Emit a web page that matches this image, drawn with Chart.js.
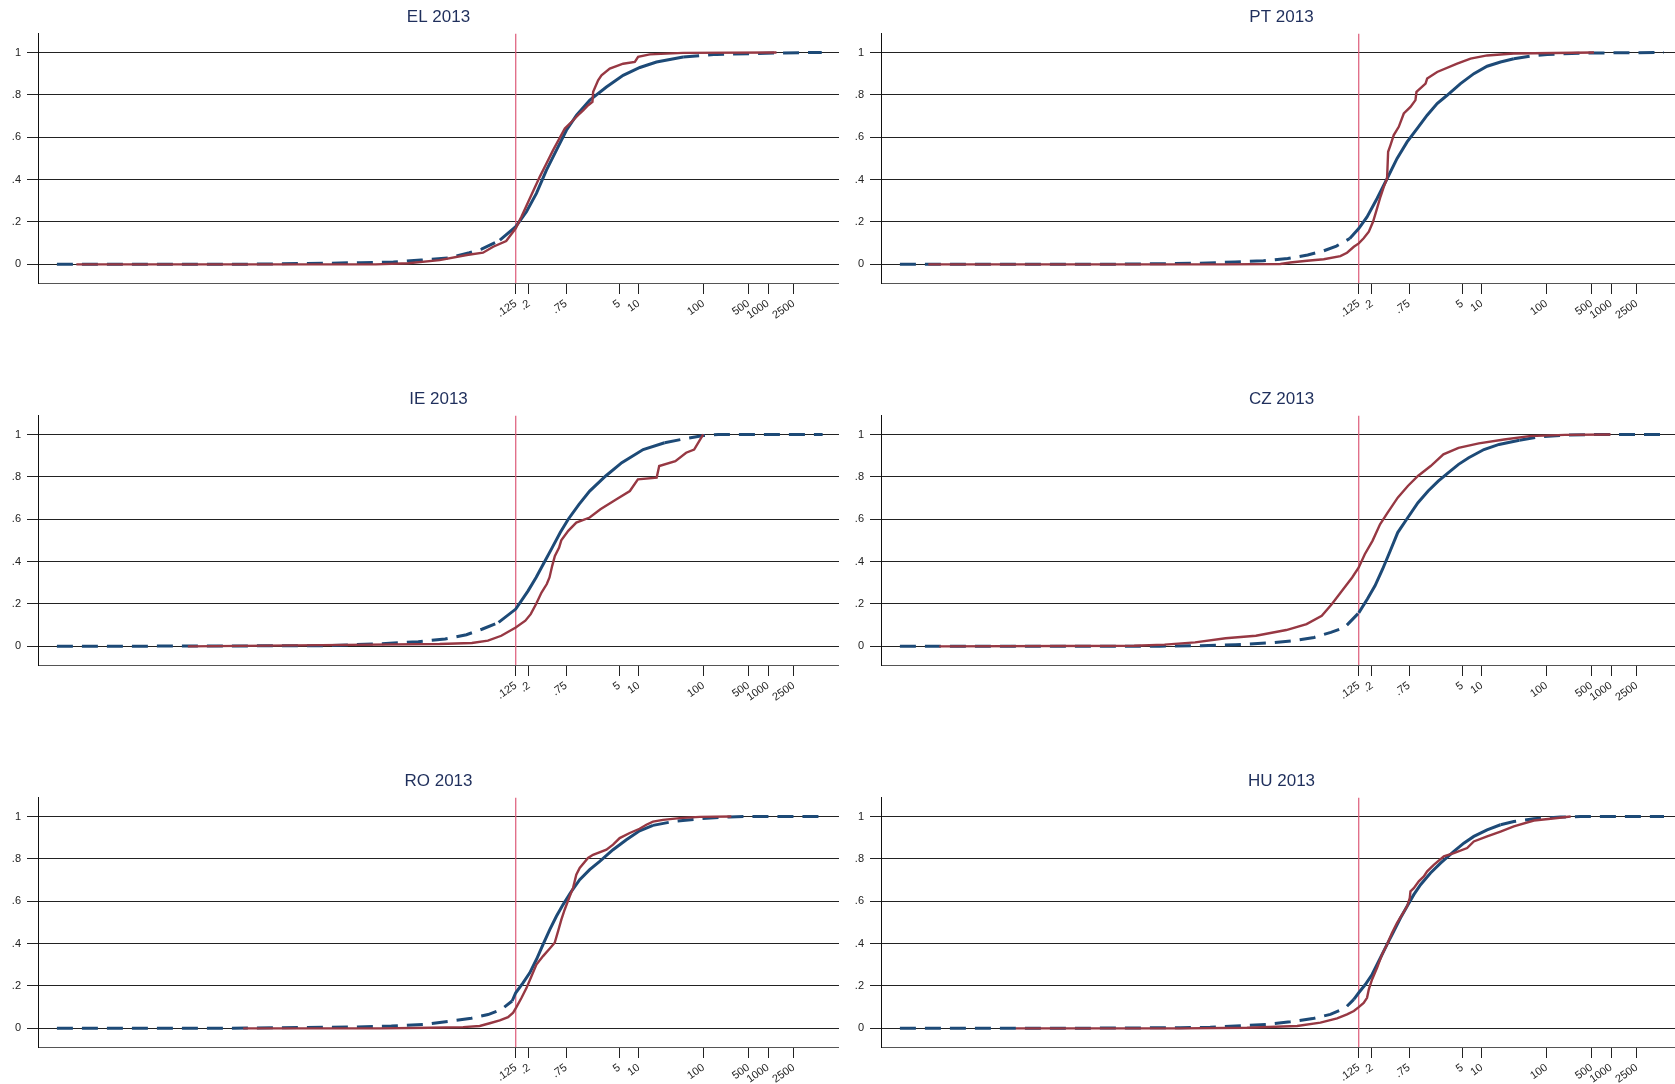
<!doctype html>
<html lang="en">
    <head>
        <meta charset="UTF-8"/>
        <title>CDF 2013</title>
        <script src="https://cdn.jsdelivr.net/npm/chart.js@4/dist/chart.umd.min.js"></script>
        <style>
         * { margin: 0; padding: 0; }
         body { background: #fff; width: 1675px; height: 1084px; overflow: hidden; position: relative; }
         .panel { position: absolute; width: 839px; height: 320px; }
        </style>
    </head>
    <body>
        <div class="panel" style="left:0px; top:0px"><canvas id="c0" width="839" height="320"></canvas></div>
        <div class="panel" style="left:843px; top:0px"><canvas id="c1" width="839" height="320"></canvas></div>
        <div class="panel" style="left:0px; top:382px"><canvas id="c2" width="839" height="320"></canvas></div>
        <div class="panel" style="left:843px; top:382px"><canvas id="c3" width="839" height="320"></canvas></div>
        <div class="panel" style="left:0px; top:764px"><canvas id="c4" width="839" height="320"></canvas></div>
        <div class="panel" style="left:843px; top:764px"><canvas id="c5" width="839" height="320"></canvas></div>
        <script>
         // axis ticks
         const xTickValues = [0.125, 0.2, 0.75, 5, 10, 100, 500, 1000, 2500];
         const xTickLabels = ['.125', '.2', '.75', '5', '10', '100', '500', '1000', '2500'];
         const yTickValues = [0, 0.2, 0.4, 0.6, 0.8, 1];
         const yTickLabels = ['0', '.2', '.4', '.6', '.8', '1'];
         const cutoff = 0.125;

         const titles = ['EL 2013', 'PT 2013', 'IE 2013', 'CZ 2013', 'RO 2013', 'HU 2013'];

         // EL
         const elBlueX = [1e-8, 1e-5, 1.3e-4, 5e-4, 1.6e-3, 4.3e-3, 0.0112, 0.024, 0.037, 0.071, 0.125, 0.183, 0.261, 0.373, 0.533, 0.76, 1.09, 1.75, 3.16, 5.73, 10.4, 18.8, 48.6, 160, 1720, 6760];
         const elBlueY = [0, 0.001, 0.005, 0.008, 0.011, 0.02, 0.03, 0.055, 0.072, 0.114, 0.178, 0.248, 0.335, 0.445, 0.539, 0.633, 0.704, 0.775, 0.837, 0.892, 0.929, 0.955, 0.979, 0.991, 0.998, 1];
         const elRedX = [2e-8, 8.5e-4, 2.7e-3, 8.3e-3, 0.0219, 0.039, 0.056, 0.089, 0.125, 0.153, 0.206, 0.294, 0.373, 0.473, 0.718, 0.966, 1.15, 1.38, 1.65, 1.92, 1.97, 2.35, 2.65, 3.56, 5.73, 8.69, 9.77, 14.8, 48.6, 1350];
         const elRedY = [0, 0, 0.005, 0.02, 0.044, 0.055, 0.083, 0.11, 0.17, 0.225, 0.311, 0.413, 0.476, 0.539, 0.641, 0.68, 0.704, 0.727, 0.751, 0.767, 0.814, 0.869, 0.892, 0.924, 0.947, 0.955, 0.979, 0.991, 0.998, 1];

         // PT
         const ptBlueX = [1e-8, 2.7e-5, 3.7e-4, 1.54e-3, 4.2e-3, 0.00995, 0.0203, 0.0359, 0.0564, 0.0908, 0.125, 0.168, 0.24, 0.344, 0.49, 0.70, 1.0, 1.43, 2.04, 2.91, 4.69, 7.54, 12.1, 19.5, 31.3, 56.8, 103, 337, 6580];
         const ptBlueY = [0, 0.001, 0.005, 0.011, 0.017, 0.028, 0.044, 0.064, 0.086, 0.122, 0.169, 0.224, 0.311, 0.405, 0.5, 0.578, 0.641, 0.704, 0.759, 0.798, 0.853, 0.9, 0.935, 0.955, 0.97, 0.983, 0.99, 0.997, 1];
         const ptRedX = [2.75e-8, 1e-3, 0.00766, 0.0109, 0.0198, 0.0359, 0.065, 0.0824, 0.105, 0.125, 0.149, 0.179, 0.208, 0.24, 0.271, 0.305, 0.343, 0.356, 0.386, 0.435, 0.52, 0.622, 0.789, 0.942, 0.977, 1.35, 1.43, 2.04, 4.16, 6.70, 12.1, 31.3, 543];
         const ptRedY = [0, 0, 0.002, 0.009, 0.017, 0.024, 0.039, 0.055, 0.083, 0.099, 0.123, 0.154, 0.201, 0.264, 0.319, 0.366, 0.405, 0.531, 0.562, 0.61, 0.649, 0.712, 0.743, 0.775, 0.814, 0.853, 0.877, 0.908, 0.947, 0.971, 0.986, 0.995, 1];

         // IE
         const ieBlueX = [1e-8, 1.25e-4, 8.4e-4, 3.88e-3, 0.0101, 0.0216, 0.0383, 0.0679, 0.125, 0.194, 0.258, 0.344, 0.458, 0.61, 0.811, 1.19, 1.74, 3.08, 5.46, 11.7, 25.1, 54, 101, 169, 6980];
         const ieBlueY = [0, 0.003, 0.011, 0.022, 0.035, 0.055, 0.082, 0.113, 0.176, 0.262, 0.325, 0.396, 0.466, 0.537, 0.6, 0.67, 0.733, 0.804, 0.867, 0.929, 0.961, 0.981, 0.995, 1, 1];
         const ieRedX = [1.06e-6, 1.25e-4, 8.3e-3, 0.0262, 0.0464, 0.0747, 0.125, 0.176, 0.213, 0.258, 0.313, 0.378, 0.416, 0.458, 0.504, 0.586, 0.633, 0.811, 1.08, 1.74, 2.55, 4.52, 7.28, 9.69, 18.9, 20.7, 36.8, 54, 71.8, 99.3];
         const ieRedY = [0, 0.006, 0.011, 0.016, 0.027, 0.05, 0.089, 0.121, 0.152, 0.2, 0.254, 0.294, 0.325, 0.38, 0.427, 0.466, 0.5, 0.545, 0.584, 0.608, 0.647, 0.694, 0.733, 0.788, 0.796, 0.851, 0.874, 0.914, 0.929, 1];

         // CZ
         const czBlueX = [1e-8, 1.04e-4, 4.57e-4, 1.56e-3, 5.04e-3, 0.0124, 0.0255, 0.0463, 0.0755, 0.125, 0.17, 0.223, 0.292, 0.383, 0.501, 0.719, 1.03, 1.48, 2.12, 3.05, 4.37, 6.28, 10.8, 18.5, 38.1, 78.5, 194, 684, 6530];
         const czBlueY = [0, 0.001, 0.003, 0.008, 0.016, 0.027, 0.042, 0.066, 0.089, 0.158, 0.223, 0.286, 0.364, 0.45, 0.537, 0.608, 0.678, 0.733, 0.78, 0.82, 0.859, 0.89, 0.929, 0.953, 0.973, 0.989, 0.997, 1, 1];
         const czRedX = [4.06e-8, 4.2e-5, 1.24e-4, 3.68e-4, 1.09e-3, 3.21e-3, 9.46e-3, 0.0195, 0.0335, 0.0481, 0.0689, 0.0989, 0.125, 0.155, 0.204, 0.267, 0.35, 0.501, 0.719, 1.03, 1.62, 2.55, 4.37, 9.0, 22.2, 54.7, 194, 982];
         const czRedY = [0, 0.003, 0.008, 0.019, 0.038, 0.05, 0.077, 0.105, 0.144, 0.2, 0.262, 0.325, 0.372, 0.435, 0.498, 0.576, 0.631, 0.702, 0.757, 0.804, 0.851, 0.906, 0.937, 0.958, 0.976, 0.992, 0.998, 1];

         // RO
         const roBlueX = [1e-8, 5e-6, 3.4e-4, 1.49e-3, 4.9e-3, 0.0112, 0.0258, 0.0467, 0.075, 0.11, 0.125, 0.162, 0.206, 0.261, 0.331, 0.42, 0.532, 0.675, 0.908, 1.22, 1.74, 2.49, 4.0, 6.43, 10.3, 16.6, 33.9, 87.5, 255, 520, 6280];
         const roBlueY = [0, 0.001, 0.006, 0.011, 0.019, 0.033, 0.048, 0.065, 0.089, 0.129, 0.168, 0.215, 0.262, 0.325, 0.396, 0.466, 0.529, 0.584, 0.647, 0.702, 0.749, 0.788, 0.843, 0.89, 0.932, 0.958, 0.976, 0.989, 0.998, 1, 1];
         const roRedX = [7.6e-6, 9.9e-4, 5.85e-3, 0.0192, 0.0347, 0.0495, 0.0708, 0.0951, 0.114, 0.128, 0.153, 0.183, 0.218, 0.261, 0.331, 0.42, 0.501, 0.565, 0.636, 0.716, 0.855, 0.964, 1.08, 1.22, 1.64, 1.96, 3.16, 4.0, 5.07, 7.24, 10.3, 13.1, 16.6, 23.7, 42.9, 87.5, 270];
         const roRedY = [0, 0, 0.003, 0.006, 0.011, 0.024, 0.038, 0.053, 0.074, 0.1, 0.143, 0.19, 0.245, 0.301, 0.341, 0.377, 0.404, 0.459, 0.514, 0.561, 0.623, 0.663, 0.725, 0.757, 0.804, 0.819, 0.843, 0.867, 0.898, 0.922, 0.942, 0.961, 0.976, 0.984, 0.992, 0.998, 1];

         // HU
         const huBlueX = [1e-8, 1e-5, 2.17e-4, 6.3e-4, 4.76e-3, 0.0109, 0.0243, 0.0455, 0.0778, 0.105, 0.125, 0.158, 0.201, 0.271, 0.343, 0.435, 0.552, 0.70, 0.888, 1.13, 1.61, 2.3, 3.7, 5.27, 7.53, 12.1, 19.5, 31.3, 64, 166, 337, 6580];
         const huBlueY = [0, 0.001, 0.003, 0.005, 0.019, 0.031, 0.046, 0.066, 0.097, 0.137, 0.168, 0.207, 0.254, 0.333, 0.396, 0.458, 0.521, 0.576, 0.631, 0.678, 0.733, 0.78, 0.835, 0.874, 0.906, 0.937, 0.961, 0.976, 0.989, 0.997, 1, 1];
         const huRedX = [6.2e-7, 2.17e-4, 2.33e-3, 0.0139, 0.0319, 0.0578, 0.0824, 0.105, 0.125, 0.149, 0.168, 0.179, 0.201, 0.24, 0.287, 0.343, 0.41, 0.49, 0.586, 0.70, 0.769, 0.789, 0.888, 1.06, 1.27, 1.43, 1.81, 2.59, 3.7, 5.94, 7.53, 12.1, 19.5, 31.3, 64, 116, 237];
         const huRedY = [0, 0, 0.003, 0.011, 0.027, 0.047, 0.066, 0.082, 0.1, 0.12, 0.144, 0.184, 0.231, 0.286, 0.349, 0.396, 0.451, 0.498, 0.537, 0.576, 0.615, 0.647, 0.662, 0.694, 0.717, 0.741, 0.772, 0.812, 0.827, 0.851, 0.882, 0.906, 0.929, 0.953, 0.981, 0.989, 1];

         const panels = [
             [elBlueX, elBlueY, elRedX, elRedY],
             [ptBlueX, ptBlueY, ptRedX, ptRedY],
             [ieBlueX, ieBlueY, ieRedX, ieRedY],
             [czBlueX, czBlueY, czRedX, czRedY],
             [roBlueX, roBlueY, roRedX, roRedY],
             [huBlueX, huBlueY, huRedX, huRedY]
         ];

         const xMin = 5.1e-9;
         const xMax = 12500;
         const yMin = -0.088;
         const yMax = 1.09;

         Chart.defaults.font.family = "'Liberation Sans', Arial, sans-serif";

         function pts(xs, ys) {
             return xs.map((x, i) => ({x: x, y: ys[i]}));
         }

         function createChart(i) {
             let [bx, by, rx, ry] = panels[i];
             let ctx = document.getElementById('c' + i).getContext('2d');
             return new Chart(ctx, {
                 type: 'line',
                 data: {
                     datasets: [{
                         data: pts(rx, ry),
                         borderColor: '#973843',
                         borderWidth: 2.4,
                         pointRadius: 0,
                         tension: 0,
                         order: 0
                     }, {
                         data: pts(bx, by),
                         borderColor: '#1d4a77',
                         borderWidth: 3,
                         pointRadius: 0,
                         tension: 0,
                         order: 1,
                         segment: {
                             // sparse tails look dashed in the original
                             borderDash: c => (c.p1.parsed.y < 0.16 || c.p0.parsed.y > 0.955) ? [16, 9] : undefined
                         }
                     }, {
                         data: [{x: cutoff, y: yMin}, {x: cutoff, y: yMax}],
                         borderColor: '#dd5a78',
                         borderWidth: 1.2,
                         pointRadius: 0,
                         order: 2
                     }]
                 },
                 options: {
                     responsive: false,
                     animation: false,
                     devicePixelRatio: 1,
                     layout: { padding: 0 },
                     plugins: {
                         legend: { display: false },
                         tooltip: { enabled: false },
                         title: {
                             display: true,
                             text: titles[i],
                             color: '#1f2f5c',
                             fullSize: false,
                             font: { size: 17, weight: 'normal' },
                             padding: { top: 7, bottom: 6 }
                         }
                     },
                     scales: {
                         x: {
                             type: 'logarithmic',
                             min: xMin,
                             max: xMax,
                             bounds: 'data',
                             afterBuildTicks: s => { s.ticks = xTickValues.map(v => ({value: v})); },
                             afterFit: s => { s.height = 37; },
                             ticks: {
                                 autoSkip: false,
                                 minRotation: 35,
                                 maxRotation: 35,
                                 padding: 3,
                                 color: '#222',
                                 font: { size: 11 },
                                 callback: (v, idx) => xTickLabels[idx]
                             },
                             grid: { drawOnChartArea: false, drawTicks: true, tickLength: 11, color: '#222' },
                             border: { display: true, color: '#555', width: 1 }
                         },
                         y: {
                             min: yMin,
                             max: yMax,
                             afterBuildTicks: s => { s.ticks = yTickValues.map(v => ({value: v})); },
                             afterFit: s => { s.width = 38; },
                             ticks: {
                                 padding: 6,
                                 color: '#222',
                                 font: { size: 11 },
                                 callback: (v, idx) => yTickLabels[idx]
                             },
                             grid: { color: '#222', lineWidth: 1, tickLength: 11 },
                             border: { display: true, color: '#111', width: 1 }
                         }
                     }
                 }
             });
         }

         for (let i = 0; i < panels.length; i++) {
             createChart(i);
         }
        </script>
    </body>
</html>
